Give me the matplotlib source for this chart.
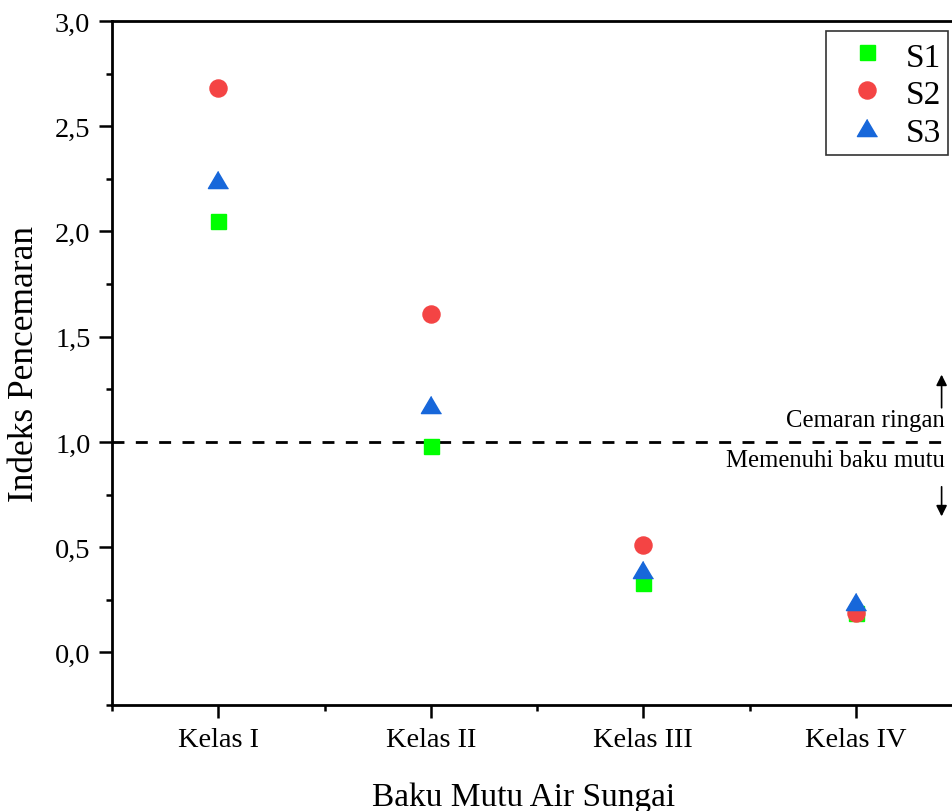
import matplotlib
matplotlib.use("Agg")
import matplotlib.pyplot as plt
from matplotlib.ticker import FixedLocator, MultipleLocator, FuncFormatter

plt.rcParams['font.family'] = ['Liberation Serif', 'DejaVu Serif']

categories = ["Kelas I", "Kelas II", "Kelas III", "Kelas IV"]
s1 = [2.05, 0.98, 0.33, 0.185]
s2 = [2.68, 1.61, 0.51, 0.188]
s3 = [2.25, 1.18, 0.395, 0.245]
series_names = ["S1", "S2", "S3"]

fig = plt.figure(figsize=(9.52, 8.12), dpi=100)
ax = fig.add_axes([112/952, 106/812, (962-112)/952, (706-22)/812])

x = list(range(1, len(categories) + 1))
tri = [(0, 0.8), (-1, -0.9), (1, -0.9)]
ax.plot(x, s1, linestyle='none', marker='s', ms=10.8, color='#00FF00', label=series_names[0], zorder=3)
ax.plot(x, s2, linestyle='none', marker='o', ms=12.3, color='#F44444', label=series_names[1], zorder=3)
ax.plot(x, s3, linestyle='none', marker=tri, ms=14.5, color='#1767DA', label=series_names[2], zorder=4)

ax.axhline(1.0, color='black', lw=2, dashes=(4.3, 4.1), zorder=2)

ax.set_xlim(0.5, 4.5)
ax.set_ylim(-0.25, 3.0)
ax.xaxis.set_major_locator(FixedLocator(x))
ax.set_xticklabels(categories)
ax.xaxis.set_minor_locator(MultipleLocator(0.5))
ax.yaxis.set_major_locator(MultipleLocator(0.5))
ax.yaxis.set_minor_locator(MultipleLocator(0.25))
ax.yaxis.set_major_formatter(FuncFormatter(lambda v, p: f"{v:.1f}".replace('.', ',')))

for side in ['left', 'bottom', 'top']:
    ax.spines[side].set_linewidth(2)
ax.spines['right'].set_visible(False)
ax.tick_params(which='major', direction='out', length=9.5, width=1.8, labelsize=20.5, pad=6,
               top=False, right=False)
ax.tick_params(which='minor', direction='out', length=4.5, width=1.8, top=False, right=False)

ax.set_xlabel("Baku Mutu Air Sungai", fontsize=24)
ax.xaxis.set_label_coords((524 - 112) / 850, -(806 - 706) / 684, transform=ax.transAxes)
ax.xaxis.label.set_va('baseline')
ax.set_ylabel("Indeks Pencemaran", fontsize=25.5, labelpad=10)

ax.text(4.42, 1.076, "Cemaran ringan", ha='right', va='baseline', fontsize=17.8)
ax.text(4.42, 0.967, "Memenuhi baku mutu", ha='right', va='top', fontsize=17.8)
ax.annotate("", xy=(4.404, 1.333), xytext=(4.404, 1.149),
            arrowprops=dict(arrowstyle='-|>', color='black', lw=1.2, mutation_scale=16))
ax.annotate("", xy=(4.404, 0.633), xytext=(4.404, 0.80),
            arrowprops=dict(arrowstyle='-|>', color='black', lw=1.2, mutation_scale=16))

leg = ax.legend(loc='upper right', bbox_to_anchor=(948/952, 1 - 32/812),
                bbox_transform=fig.transFigure, fontsize=24, frameon=True, fancybox=False,
                framealpha=1, edgecolor='#333333', borderpad=0.22, labelspacing=0.1,
                handleheight=1.1, handletextpad=0.15, handlelength=2.0, borderaxespad=0)
leg.get_frame().set_linewidth(1.2)

fig.savefig("out.png", dpi=100)
